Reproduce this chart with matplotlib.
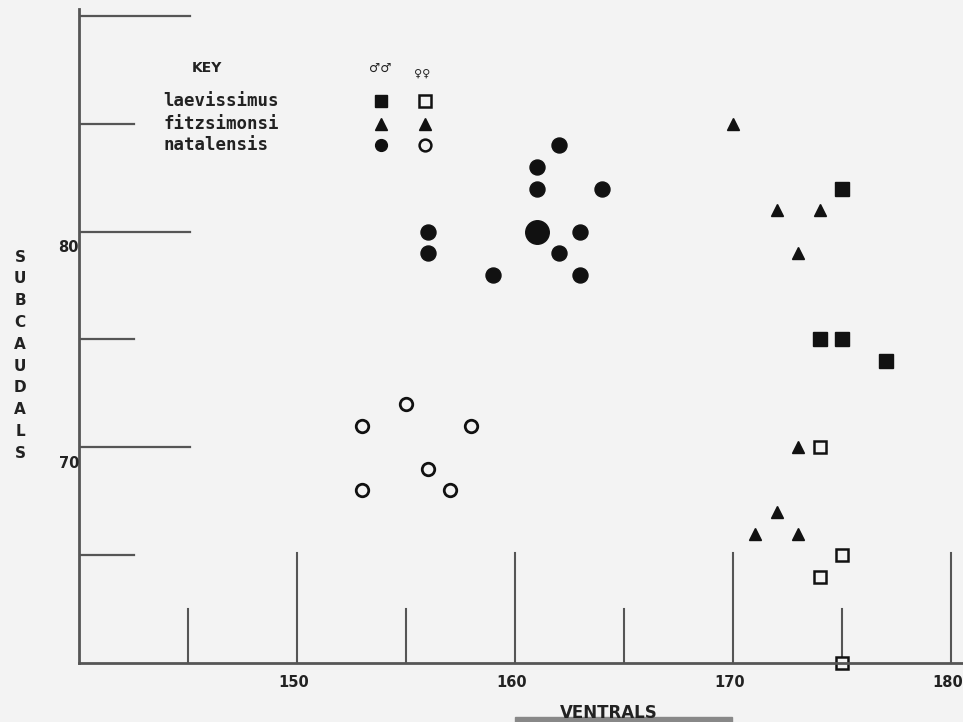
import matplotlib.pyplot as plt

# ventral / subcaudal counts
lae_m_x = [175, 174, 175, 177]
lae_m_y = [82, 75, 75, 74]
lae_f_x = [174, 175, 174, 175]
lae_f_y = [70, 65, 64, 60]
fitz_x = [170, 172, 174, 173, 173, 172, 171, 173]
fitz_y = [85, 81, 81, 79, 70, 67, 66, 66]
nat_m_x = [162, 161, 161, 164, 156, 156, 161, 163, 162, 163, 159]
nat_m_y = [84, 83, 82, 82, 80, 79, 80, 80, 79, 78, 78]
nat_m_n = [1, 1, 1, 1, 1, 1, 2, 1, 1, 1, 1]
nat_f_x = [155, 153, 158, 156, 153, 157]
nat_f_y = [72, 71, 71, 69, 68, 68]

x_major = [150, 160, 170, 180]
x_minor = [145, 155, 165, 175]
y_major = [90, 80, 70]
y_minor = [85, 75, 65]
y_labels = [80, 70]

bg = '#f3f3f3'
ink = '#111111'
axc = '#555555'

fig = plt.figure(figsize=(9.63, 7.22), dpi=100, facecolor=bg)
ax = fig.add_axes([79 / 963, 59 / 722, 884 / 963, 663 / 722])
ax.set_facecolor(bg)
ax.set_xlim(140, 180.55)
ax.set_ylim(60, 90.74)
ax.set_xticks([])
ax.set_yticks([])
for s in ['top', 'right']:
    ax.spines[s].set_visible(False)
for s in ['left', 'bottom']:
    ax.spines[s].set_color(axc)
    ax.spines[s].set_linewidth(2)
ax.spines['left'].set_bounds(60, 90.3)

# home-made ticks
for x in x_major:
    ax.plot([x, x], [60, 65.1], color=axc, lw=1.5, clip_on=False)
    ax.text(x - 0.15, 59.1, str(x), ha='center', va='center',
            fontsize=10.5, fontweight='bold', color='#222')
for x in x_minor:
    ax.plot([x, x], [60, 62.5], color=axc, lw=1.5)
for y in y_major:
    ax.plot([140, 145.1], [y, y], color=axc, lw=1.6)
for y in y_minor:
    ax.plot([140, 142.5], [y, y], color=axc, lw=1.6)
for y in y_labels:
    ax.text(140, y - 0.75, str(y), ha='right', va='center',
            fontsize=10.5, fontweight='bold', color='#222')

# points
ax.plot(lae_m_x, lae_m_y, 's', ms=9.5, color=ink, ls='none')
ax.plot(lae_f_x, lae_f_y, 's', ms=8.5, mfc=bg, mec=ink, mew=1.8, ls='none',
        clip_on=False)
ax.plot(fitz_x, fitz_y, '^', ms=9, color=ink, ls='none')
for x, y, n in zip(nat_m_x, nat_m_y, nat_m_n):
    ax.plot(x, y, 'o', ms=10.8 * n ** 0.65, color=ink)
ax.plot(nat_f_x, nat_f_y, 'o', ms=9, mfc=bg, mec=ink, mew=2, ls='none')

# key
def px(x, y):
    return x / 963, 1 - y / 722

fig.text(*px(192, 68), 'KEY', fontsize=10, fontweight='bold',
         va='center', color='#222')
fig.text(*px(380, 68), '\u2642\u2642', fontsize=9, fontweight='bold',
         style='italic', ha='center', va='center', color='#222')
fig.text(*px(422, 74), '\u2640\u2640', fontsize=8, fontweight='bold',
         ha='center', va='center', color='#222')
names = ['laevissimus', 'fitzsimonsi', 'natalensis']
key_y = [101, 124, 145]
for name, y in zip(names, key_y):
    fig.text(*px(163, y), name, family='DejaVu Sans Mono', fontsize=12.5,
             fontweight='bold', va='center', color='#222')
key_m = [('s', ink), ('s', bg), ('^', ink), ('^', ink), ('o', ink), ('o', bg)]
for i, (m, fc) in enumerate(key_m):
    x = 381 if i % 2 == 0 else 425
    y = key_y[i // 2]
    ax.plot(*px(x, y), m, ms=8.5 if m != '^' else 8.5, mfc=fc, mec=ink,
            mew=1.8 if fc == bg else 1, transform=fig.transFigure,
            clip_on=False)

# axis titles
for i, ch in enumerate('SUBCAUDALS'):
    fig.text(*px(20, 257 + i * 21.8), ch, fontsize=11, fontweight='bold',
             ha='center', va='center', color='#222')
fig.text(*px(609, 713), 'VENTRALS', fontsize=12, fontweight='bold',
         ha='center', va='center', color='#222')
fig.patches.append(plt.Rectangle(px(515, 722), 217 / 963, 5 / 722,
                                 transform=fig.transFigure, color='#888',
                                 zorder=0))

fig.savefig('out.png', dpi=100, facecolor=bg)
